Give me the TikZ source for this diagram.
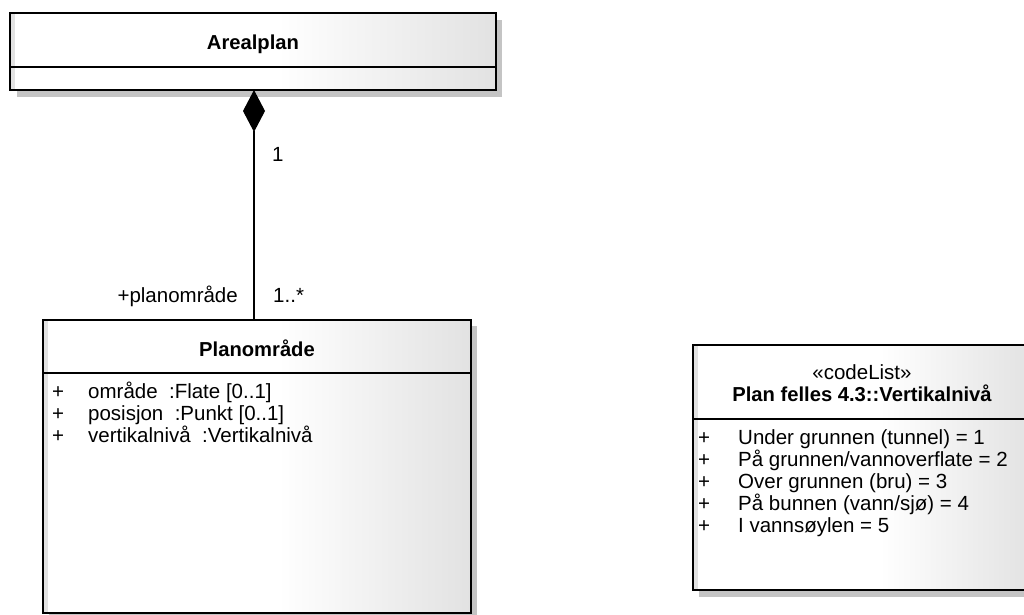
\documentclass[tikz,border=0pt]{standalone}
\usepackage{fontspec}
\setmainfont{Liberation Sans}
\usetikzlibrary{arrows.meta,calc}

\definecolor{boxgrey}{HTML}{E2E2E2}
\definecolor{shadowgrey}{HTML}{C4C4C4}

\tikzset{
  umlbox/.style={draw=black, line width=1.5pt, inner sep=0pt, outer sep=0pt, anchor=north west,
    path picture={
      \fill[white] (path picture bounding box.south west) rectangle (path picture bounding box.north east);
      \shade[left color=white, right color=boxgrey]
        ($(path picture bounding box.south west)!0.55!(path picture bounding box.south east)$)
        rectangle (path picture bounding box.north east);
      \fill[boxgrey] (path picture bounding box.south west) rectangle ([xshift=5pt]path picture bounding box.north west);
    }},
  boxshadow/.style={fill=shadowgrey},
  divider/.style={line width=1.5pt},
  txt/.style={font=\fontsize{20.5}{24}\selectfont, inner sep=0pt, text height=15.5pt, text depth=3.5pt},
  title/.style={font=\fontsize{20.2}{24}\selectfont\bfseries, inner sep=0pt, text height=15.5pt, text depth=3.5pt},
  attr/.style={txt, anchor=west},
  link/.style={line width=1.2pt},
}

\begin{document}
\begin{tikzpicture}[x=1pt, y=-1pt]
  \useasboundingbox (0,0) rectangle (1024,614);
  \clip (0,0) rectangle (1024,614);

  % shadows
  \fill[boxshadow] (17,20) rectangle (502,97);
  \fill[boxshadow] (49,326) rectangle (477,640);
  \fill[boxshadow] (699,351) rectangle (1040,597);

  % Arealplan
  \node[umlbox, minimum width=486pt, minimum height=77pt] (areal) at (10,13) {};
  \draw[divider] (areal.west |- 0,67) -- (areal.east |- 0,67);
  \node[title] (arealname) at (253,43) {Arealplan};

  % Planområde
  \node[umlbox, minimum width=428pt, minimum height=293pt] (pomr) at (43,320) {};
  \draw[divider] (pomr.west |- 0,373) -- (pomr.east |- 0,373);
  \node[title] (pomrname) at (257,350) {Planområde};
  \node[attr] (pa1) at (52,392) {+};
  \node[attr] (pa1n) at (88,392) {område\ \ :Flate [0..1]};
  \node[attr] (pa2) at (52,414) {+};
  \node[attr] (pa2n) at (88,414) {posisjon\ \ :Punkt [0..1]};
  \node[attr] (pa3) at (52,436) {+};
  \node[attr] (pa3n) at (88,436) {vertikalnivå\ \ :Vertikalnivå};

  % Vertikalnivå code list
  \node[umlbox, minimum width=340pt, minimum height=245pt] (vn) at (693,345) {};
  \draw[divider] (vn.west |- 0,419) -- (vn.east |- 0,419);
  \node[txt] (vnstereo) at (862,373) {«codeList»};
  \node[title] (vnname) at (862,395) {Plan felles 4.3::Vertikalnivå};
  \foreach \i/\t in {0/{Under grunnen (tunnel) = 1},
                     1/{På grunnen/vannoverflate = 2},
                     2/{Over grunnen (bru) = 3},
                     3/{På bunnen (vann/sjø) = 4},
                     4/{I vannsøylen = 5}} {
    \node[attr] (vp\i) at (698,438+22*\i) {+};
    \node[attr] (vv\i) at (738,438+22*\i) {\t};
  }

  % composition Arealplan <>-- Planområde
  \coordinate (linex) at (254,0);
  \draw[link, -{Diamond[length=42pt, width=22pt]}] (pomr.north -| linex) -- (areal.south -| linex);
  \node[txt, anchor=west] (mult1) at (272,155) {1};
  \node[txt, anchor=east] (role) at (238,296) {+planområde};
  \node[txt, anchor=west] (mult2) at (273,296) {1..*};
\end{tikzpicture}
\end{document}
